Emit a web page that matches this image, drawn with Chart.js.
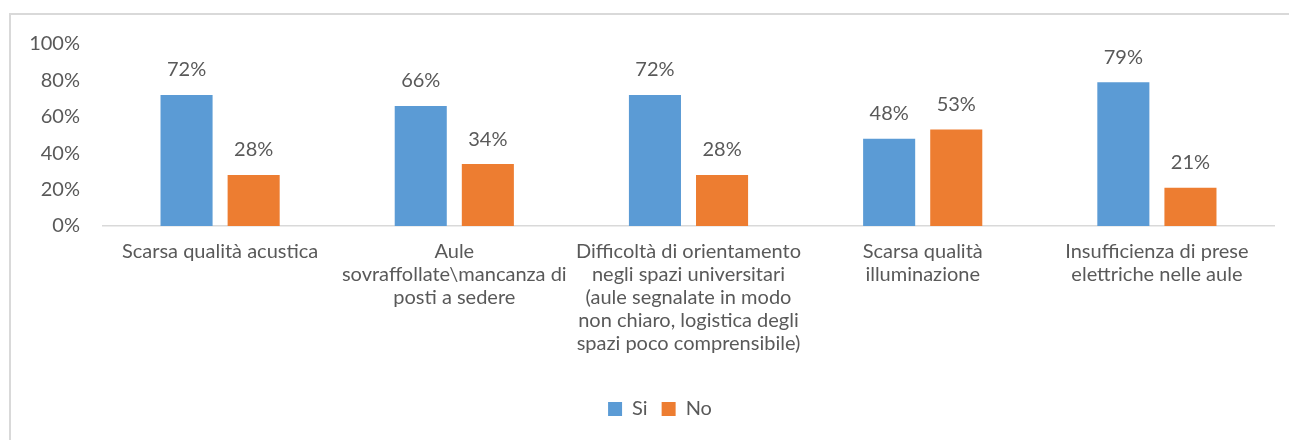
<!DOCTYPE html>
<html>
<head>
<meta charset="utf-8">
<script src="https://cdn.jsdelivr.net/npm/chart.js@4"></script>
<style>
  html, body { margin: 0; padding: 0; background: #fff; }
  #wrap { position: relative; width: 1289px; height: 440px; }
</style>
</head>
<body>
<div id="wrap"><canvas id="chart" width="1289" height="440"></canvas></div>
<script>
// categorie (etichette su più righe)
const categories = [
    ["Scarsa qualità acustica"],
    ["Aule", "sovraffollate\\mancanza di", "posti a sedere"],
    ["Difficoltà di orientamento", "negli spazi universitari", "(aule segnalate in modo", "non chiaro, logistica degli", "spazi poco comprensibile)"],
    ["Scarsa qualità", "illuminazione"],
    ["Insufficienza di prese", "elettriche nelle aule"],
];
const siValues = [72, 66, 72, 48, 79];
const noValues = [28, 34, 28, 53, 21];
const yTicks = [0, 20, 40, 60, 80, 100];

const textColor = "#595959";
const fontFamily = "Lato, 'Open Sans', sans-serif";

// cornice grigia in alto e a sinistra
const framePlugin = {
    id: "frame",
    beforeDraw(chart) {
        const ctx = chart.ctx;
        ctx.save();
        ctx.strokeStyle = "#D9D9D9";
        ctx.lineWidth = 2;
        ctx.beginPath();
        ctx.moveTo(10, chart.height);
        ctx.lineTo(10, 14);
        ctx.lineTo(chart.width, 14);
        ctx.stroke();
        ctx.restore();
    }
};

// legenda spostata un po' a destra, centrata sotto il grafico
const legendShift = {
    id: "legendShift",
    afterLayout(chart) {
        chart.legend.left += 23;
        chart.legend.right += 23;
    }
};

// valori sopra le barre
const valueLabels = {
    id: "valueLabels",
    afterDatasetsDraw(chart) {
        const ctx = chart.ctx;
        ctx.save();
        ctx.fillStyle = textColor;
        ctx.font = "20px " + fontFamily;
        ctx.textAlign = "center";
        ctx.textBaseline = "middle";
        chart.data.datasets.forEach((ds, i) => {
            chart.getDatasetMeta(i).data.forEach((bar, j) => {
                ctx.fillText(ds.data[j] + "%", bar.x, bar.y - 25);
            });
        });
        ctx.restore();
    }
};

new Chart(document.getElementById("chart"), {
    type: "bar",
    data: {
        labels: categories,
        datasets: [
            { label: "Si", data: siValues, backgroundColor: "#5B9BD5" },
            { label: "No", data: noValues, backgroundColor: "#ED7D31" },
        ],
    },
    options: {
        responsive: false,
        animation: false,
        events: [],
        layout: { padding: { top: 44, right: 15, bottom: 11, left: 0 } },
        datasets: {
            bar: { categoryPercentage: 0.573, barPercentage: 0.776 },
        },
        scales: {
            x: {
                grid: { display: false, drawTicks: false },
                border: { display: true, color: "#D9D9D9", width: 1.5 },
                ticks: {
                    color: textColor,
                    font: { family: fontFamily, size: 20, lineHeight: 1.15 },
                    padding: 14,
                    maxRotation: 0,
                    autoSkip: false,
                },
                afterFit(scale) { scale.height = 159; },
            },
            y: {
                min: 0,
                max: 100,
                grid: { display: false, drawTicks: false },
                border: { display: false },
                afterBuildTicks(scale) { scale.ticks = yTicks.map(v => ({ value: v })); },
                ticks: {
                    color: textColor,
                    font: { family: fontFamily, size: 20 },
                    padding: 23,
                    callback: v => v + "%",
                },
                afterFit(scale) { scale.width = 103; },
            },
        },
        plugins: {
            legend: {
                position: "bottom",
                labels: {
                    color: textColor,
                    font: { family: fontFamily, size: 20 },
                    boxWidth: 14,
                    boxHeight: 14,
                    padding: 14,
                },
            },
            tooltip: { enabled: false },
        },
    },
    plugins: [framePlugin, legendShift, valueLabels],
});
</script>
</body>
</html>
